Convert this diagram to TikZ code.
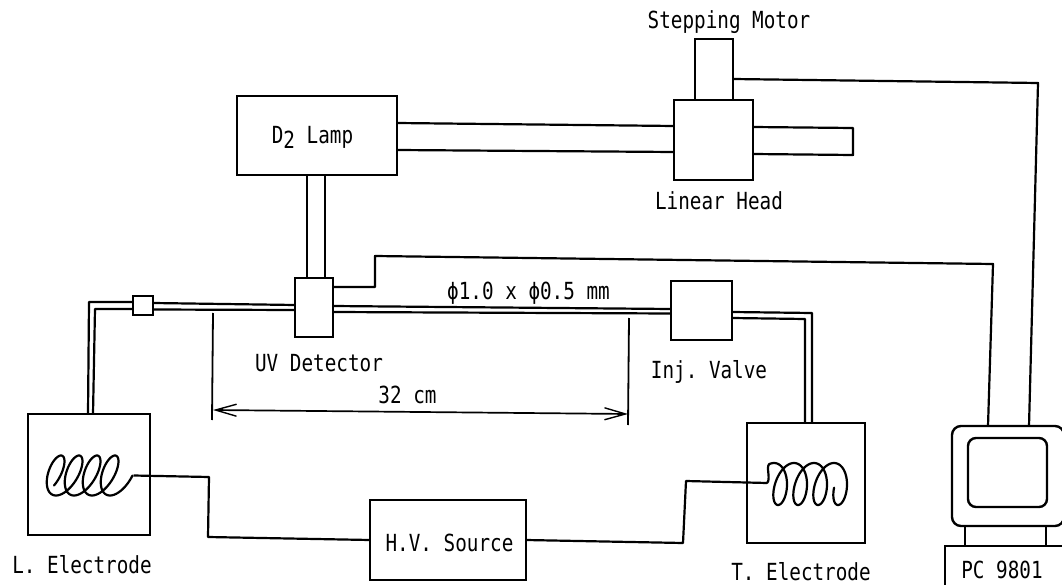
\documentclass[tikz,border=0pt]{standalone}
\usepackage{fontspec}
\setmonofont{DejaVu Sans Mono}
\usetikzlibrary{arrows.meta}
\tikzset{
  box/.style={draw,line width=2.4pt,inner sep=0pt,outer sep=0pt,minimum width=#1},
  high/.style={minimum height=#1},
  txt/.style={inner sep=0pt,font=\ttfamily\fontsize{19.3}{22}\selectfont,yscale=1.22,transform shape},
  ln/.style={line width=2.2pt,line join=round},
  coil/.style={line width=2.2pt,line join=round,line cap=round},
  thin line/.style={line width=1.8pt},
  dim/.style={line width=1.7pt,{Straight Barb[length=21pt,width=12pt,line width=1.4pt]}-{Straight Barb[length=21pt,width=12pt,line width=1.4pt]}}
}
\begin{document}
\begin{tikzpicture}[x=1pt,y=-1pt]
\useasboundingbox (0,0) rectangle (1062,585);
\clip (0,0) rectangle (1062,585);
% boxes
\node[box=160pt,high=79pt] (lamp) at (317,135.5) {};
\node[box=79pt,high=80pt] (head) at (713.5,140) {};
\node[box=38pt,high=61pt] (motor) at (714,69.5) {};
\node[box=38pt,high=59pt] (uv) at (314,307.5) {};
\node[box=20pt,high=19pt] (joint) at (143,305.5) {};
\node[box=122pt,high=121pt] (lel) at (89,474.5) {};
\node[box=61pt,high=59pt] (valve) at (701.5,310.5) {};
\node[box=156pt,high=80pt] (hv) at (448,540) {};
\node[box=118pt,high=120pt] (tel) at (806,483) {};
\node[box=112pt,high=100pt,rounded corners=9pt] (mon) at (1008,476) {};
\node[box=79pt,high=69pt,rounded corners=8pt] (screen) at (1007.5,472.5) {};
% PC box (runs off the picture)
\node[box=130pt,high=44pt] (pc) at (1010,568) {};
\draw[ln] ([xshift=-43pt]mon.south) -- ([xshift=-45pt]pc.north);
\draw[ln] ([xshift=38pt]mon.south) -- ([xshift=36pt]pc.north);
% light path
\draw[ln] ([yshift=12.5pt]lamp.east) -- ([yshift=14pt]head.west);
\draw[ln] ([yshift=-14.5pt]lamp.east) -- ([yshift=-12pt]head.west);
\coordinate (railA) at (853,128);
\coordinate (railB) at (853,155);
\draw[ln] ([yshift=13pt]head.east) -- (railA) -- (railB) -- ([yshift=-14pt]head.east);
\draw[ln] ([xshift=-10pt]lamp.south) -- ([xshift=-7pt]uv.north);
\draw[ln] ([xshift=8pt]lamp.south) -- ([xshift=11pt]uv.north);
% signal cables
\coordinate (mc) at (1038,83);
\draw[ln] ([yshift=-9.5pt]motor.east) -- (mc) -- ([xshift=21pt]mon.north);
\coordinate (ua) at (375,287);
\coordinate (ub) at (375,256);
\coordinate (uc) at (993,264);
\draw[ln] ([yshift=20.5pt]uv.east) -- (ua) -- (ub) -- (uc) -- ([xshift=-20pt]mon.north);
% capillary
\coordinate (ca) at (89,302);
\coordinate (cb) at (95,309);
\draw[ln] ([xshift=-1pt]lel.north) -- (ca) -- ([yshift=3.5pt]joint.west);
\draw[ln] ([xshift=4pt]lel.north) -- (cb) -- ([yshift=-3.5pt]joint.west);
\draw[ln] ([yshift=2.5pt]joint.east) -- ([yshift=2.5pt]uv.west);
\draw[ln] ([yshift=-4pt]joint.east) -- ([yshift=-2.5pt]uv.west);
\draw[ln] ([yshift=1.5pt]uv.east) -- ([yshift=1.5pt]valve.west);
\draw[ln] ([yshift=-4.5pt]uv.east) -- ([yshift=-3pt]valve.west);
\coordinate (cc) at (812,313);
\coordinate (cd) at (805,319);
\draw[ln] ([yshift=-1.5pt]valve.east) -- (cc) -- ([xshift=6pt]tel.north);
\draw[ln] ([yshift=-7.5pt]valve.east) -- (cd) -- ([xshift=-1pt]tel.north);
% dimension
\coordinate (dla) at (213,313);
\coordinate (dlb) at (212,420);
\coordinate (dra) at (629,318);
\coordinate (drb) at (628,425);
\coordinate (dma) at (213,410);
\coordinate (dmb) at (628,414);
\draw[thin line] (dla) -- (dlb);
\draw[thin line] (dra) -- (drb);
\draw[dim] (dma) -- (dmb);
% coils
\draw[coil] plot[domain=-120:1350,samples=260,smooth] ({54+\x/20-11*sin(\x)+7*cos(\x)},{475.5-20*cos(\x)});
\draw[coil] plot[domain=-20:1340,samples=260,smooth] ({771+\x/18+11*sin(\x)+3*cos(\x)},{484-21*cos(\x)});
\coordinate (coilL) at (133.5,475.5);
\coordinate (coilT) at (767,483);
\coordinate (coilTtop) at (769,464.3);
\draw[coil] (coilT) .. controls (771,480) and (766,467) .. (coilTtop);
\coordinate (wa) at (209,477);
\coordinate (wb) at (208,537);
\coordinate (wc) at (683,543);
\coordinate (wd) at (686,481);
\draw[ln] (coilL) -- (wa) -- (wb) -- (hv.west);
\draw[ln] (hv.east) -- (wc) -- (wd) -- (coilT);
% labels
\node[txt] (tmotor) at (729,22) {Stepping Motor};
\node[txt] (thead) at (719,201) {Linear Head};
\node[txt] (tlamp) at (312.5,137) {D\raisebox{-4pt}{2} Lamp};
\node[txt] (tuv) at (319,363) {UV Detector};
\node[txt] (tlen) at (407.5,395) {32 cm};
\node[txt] (tcap) at (528.5,293) {ϕ1.0 x ϕ0.5 mm};
\node[txt] (tinj) at (709,372) {Inj. Valve};
\node[txt] (ths) at (449.5,543) {H.V. Source};
\node[txt] (tle) at (82,565) {L. Electrode};
\node[txt] (tte) at (801,572) {T. Electrode};
\node[txt] (tpc) at (1002,570) {PC 9801};
\end{tikzpicture}
\end{document}
